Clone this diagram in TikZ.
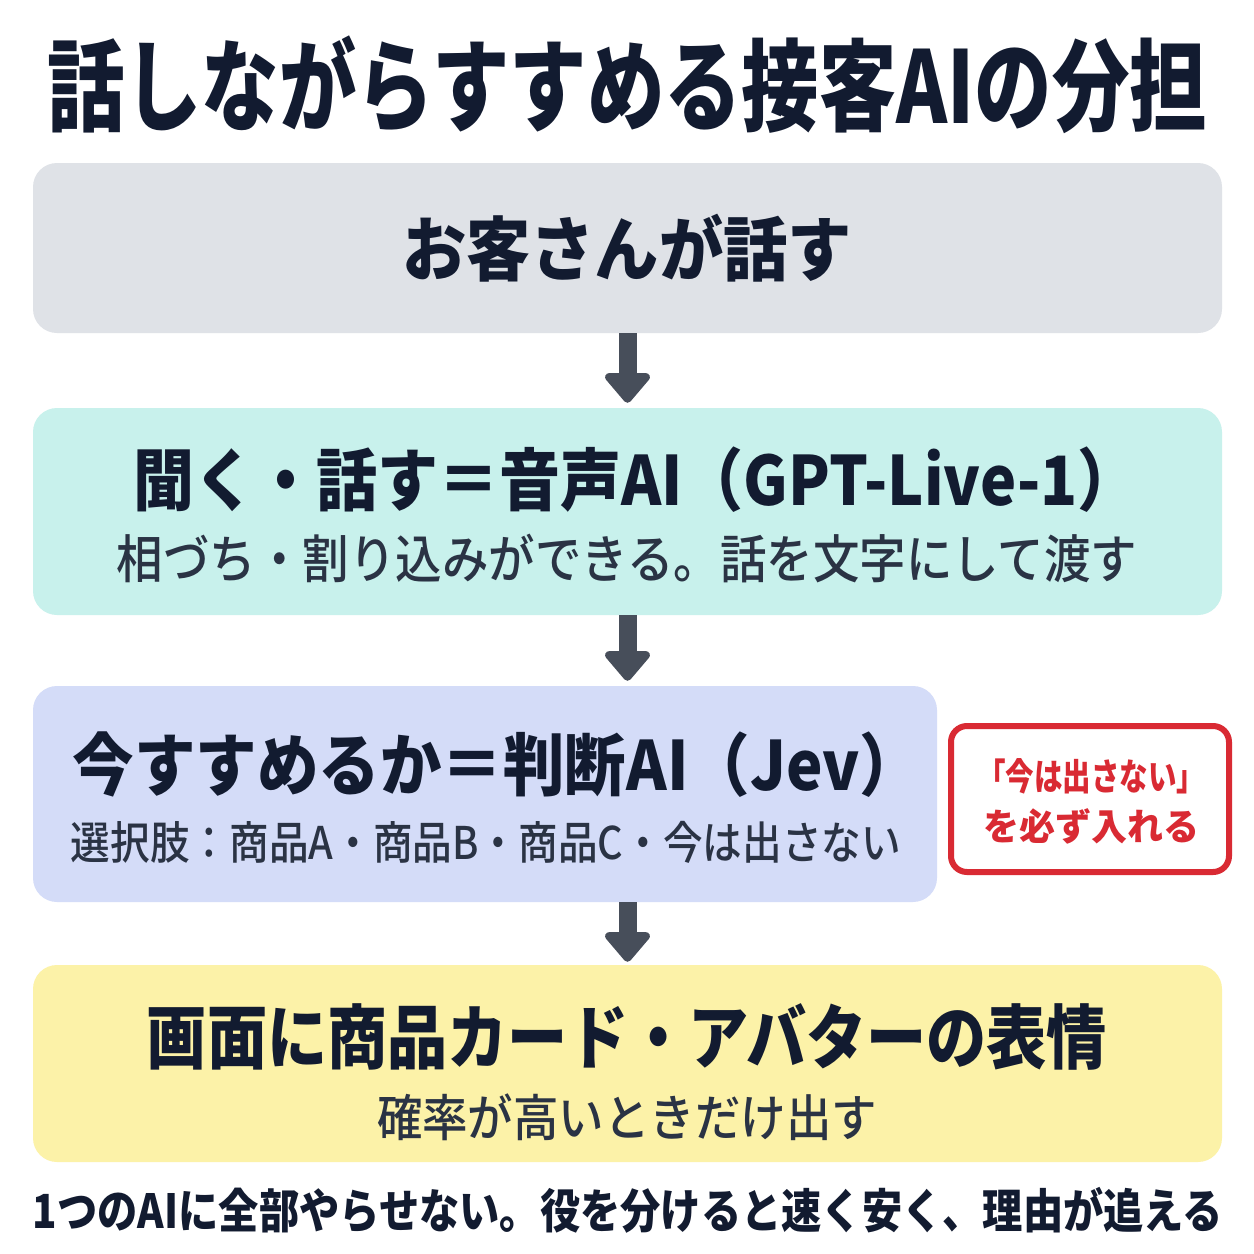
\documentclass[tikz,border=0pt]{standalone}
\usepackage{fontspec}
\setmainfont{Noto Sans CJK JP Medium}[BoldFont={Noto Sans CJK JP Black}]
\usepackage{xcolor}
\definecolor{colorInk}{HTML}{121B30}
\definecolor{colorSub}{HTML}{2A3344}
\definecolor{colorArrow}{HTML}{474E5A}
\definecolor{colorAlert}{HTML}{D92A33}
\definecolor{colorCustomer}{HTML}{DFE2E7}
\definecolor{colorVoice}{HTML}{C8F1EC}
\definecolor{colorJudge}{HTML}{D4DCF8}
\definecolor{colorScreen}{HTML}{FCF2A8}
\usepackage{tikz}
\usetikzlibrary{arrows.meta, positioning}
\newcommand{\fitto}[2]{\resizebox{#1}{\height}{#2}}
\tikzset{
  panel/.style={rounded corners=24pt, inner sep=0pt},
  headline/.style={inner sep=0pt, text=colorInk, font=\bfseries},
  subline/.style={inner sep=0pt, text=colorSub},
  flow/.style={draw=colorArrow, line width=18pt, -{Triangle[width=52pt,length=32pt,round]}}
}

\begin{document}
\begin{tikzpicture}[x=1pt, y=-1pt]
\useasboundingbox[fill=white] (0,0) rectangle (1254,1254);
\node[headline] (title) at (627,85) {\fontsize{100}{100}\selectfont\fitto{1160pt}{話しながらすすめる接客AIの分担}};
% boxes
\node[panel, fill=colorCustomer, minimum width=1189pt, minimum height=170pt] (cust) at (627.5,248) {};
\node[panel, fill=colorVoice, minimum width=1189pt, minimum height=207pt] (voice) at (627.5,511.5) {};
\node[panel, fill=colorJudge, minimum width=904pt, minimum height=216pt] (judge) at (485,794) {};
\node[panel, fill=colorScreen, minimum width=1189pt, minimum height=197pt] (screen) at (627.5,1063.5) {};
\node[draw=colorAlert, line width=6pt, fill=white, rounded corners=16pt, minimum width=278pt, minimum height=146pt, inner sep=0pt] (note) at (1090,799) {};
% texts
\node[headline] (custText) at (627,248) {\fontsize{70}{70}\selectfont\fitto{450pt}{お客さんが話す}};
\node[headline] (voiceHead) at (636,480) {\fontsize{68}{68}\selectfont\fitto{1005pt}{聞く・話す＝音声AI（GPT-Live-1）}};
\node[subline] (voiceSub) at (627,558) {\fontsize{52}{52}\selectfont\fitto{1020pt}{相づち・割り込みができる。話を文字にして渡す}};
\node[headline] (judgeHead) at (497,765) {\fontsize{68}{68}\selectfont\fitto{848pt}{今すすめるか＝判断AI（Jev）}};
\node[subline] (judgeSub) at (486,842) {\fontsize{45}{45}\selectfont\fitto{830pt}{選択肢：商品A・商品B・商品C・今は出さない}};
\node[headline] (screenHead) at (627,1037) {\fontsize{70}{70}\selectfont\fitto{960pt}{画面に商品カード・アバターの表情}};
\node[subline] (screenSub) at (627,1117) {\fontsize{50}{50}\selectfont\fitto{500pt}{確率が高いときだけ出す}};
\node[headline, text=colorAlert, align=center, font=\bfseries\fontsize{37}{50}\selectfont] (noteText) at (1091,801) {\fitto{228pt}{「今は出さない」}\\\fitto{216pt}{を必ず入れる}};
\node[headline] (footer) at (628,1210) {\fontsize{47}{47}\selectfont\fitto{1190pt}{1つのAIに全部やらせない。役を分けると速く安く、理由が追える}};
% arrows
\draw[flow, shorten >=5pt] (cust.south) -- (voice.north);
\draw[flow, shorten >=5pt] (voice.south) -- (voice.south |- judge.north);
\draw[flow, shorten >=3pt] (screen.north |- judge.south) -- (screen.north);
\end{tikzpicture}
\end{document}
